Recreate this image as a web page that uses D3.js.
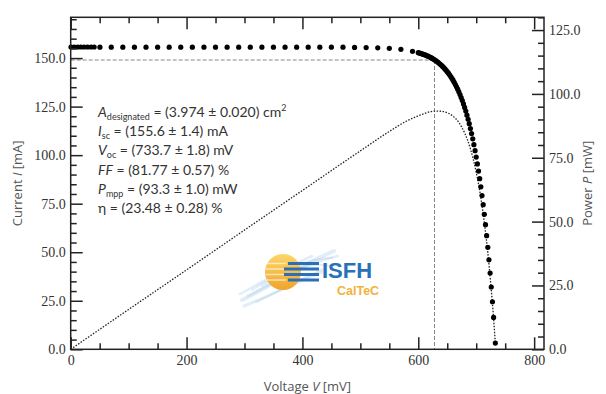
<!DOCTYPE html>
<html>
<head>
<meta charset="utf-8">
<script src="https://cdn.jsdelivr.net/npm/d3@7/dist/d3.min.js"></script>
<style>
  html, body { margin: 0; padding: 0; background: #fff; }
  svg { display: block; }
  .tick-text { font-family: "Liberation Serif", serif; font-size: 14px; fill: #333; }
  .axis-title { font-family: "Open Sans", sans-serif; font-size: 13px; fill: #555; }
  .param { font-family: Lato, sans-serif; font-size: 14px; fill: #333; }
</style>
</head>
<body>
<div id="chart"></div>
<script>
// I-V measurement points (voltage in mV, current in mA)
const voltage = [
  0.5, 6, 12, 17.5, 23, 29, 35, 40.5, 50.5, 70,
  90, 110, 130, 150, 170, 190, 210, 230, 250, 270, 290, 310, 330, 350, 370,
  390, 410, 430, 450, 470, 490, 510, 530, 550, 570, 590,
  600, 602, 604, 606, 608, 610, 612, 614, 616, 618, 620, 622, 624, 626, 628,
  630, 632, 634, 636, 638, 640, 642, 644, 646, 648, 650, 652, 654, 656, 658,
  660, 662, 664, 666, 668, 670, 672, 674, 676, 678, 680, 682, 684, 686, 688,
  690, 692, 694, 696, 698, 700, 702, 704, 706, 708, 710, 712, 714, 716, 718,
  720, 722, 724, 726, 728, 730, 733
];
const current = [
  155.7, 155.7, 155.7, 155.7, 155.7, 155.7, 155.7, 155.7, 155.6, 155.6,
  155.6, 155.6, 155.6, 155.6, 155.6, 155.6, 155.6, 155.6, 155.6, 155.6, 155.6, 155.6, 155.6, 155.6, 155.6,
  155.6, 155.6, 155.6, 155.6, 155.6, 155.5, 155.4, 155.3, 155.0, 154.5, 153.5,
  152.8, 152.6, 152.4, 152.2, 152.0, 151.8, 151.6, 151.3, 151.1, 150.8, 150.5, 150.2, 149.8, 149.5, 149.1,
  148.7, 148.3, 147.8, 147.3, 146.8, 146.3, 145.7, 145.1, 144.4, 143.7, 143.0, 142.2, 141.4, 140.5, 139.6,
  138.6, 137.5, 136.4, 135.2, 134.0, 132.6, 131.2, 129.7, 128.1, 126.4, 124.6, 122.7, 120.6, 118.5, 116.2,
  113.7, 111.1, 108.4, 105.4, 102.3, 99.0, 95.5, 91.8, 87.9, 83.7, 79.2, 74.5, 69.5, 64.2, 58.5,
  52.5, 46.1, 39.3, 32.1, 24.5, 16.4, 3.2
];

// power curve (mW)
const powerVoltage = [0, 100, 200, 300, 400, 500, 550, 580, 600, 610, 620, 630, 640, 650, 660, 670, 680, 690, 700, 710, 720, 725, 730, 733];
const power = [0, 15.6, 31.1, 46.7, 62.2, 77.7, 85.3, 89.4, 91.4, 92.3, 93.0, 93.3, 93.2, 92.6, 91.3, 88.8, 84.7, 78.5, 69.3, 56.3, 37.8, 25.9, 12.0, 2.4];

// maximum power point
const mppVoltage = 628;
const mppCurrent = 149.0;

// ticks
const xTicks = [0, 200, 400, 600, 800];
const currentTicks = [0, 25, 50, 75, 100, 125, 150];
const powerTicks = [0, 25, 50, 75, 100, 125];

// parameter box
const paramSymbols = ['A', 'I', 'V', 'FF', 'P', 'η'];
const paramSubs = ['designated', 'sc', 'oc', '', 'mpp', ''];
const paramValues = [' = (3.974 ± 0.020) cm', ' = (155.6 ± 1.4) mA', ' = (733.7 ± 1.8) mV', ' = (81.77 ± 0.57) %', ' = (93.3 ± 1.0) mW', ' = (23.48 ± 0.28) %'];
const paramSups = ['2', '', '', '', '', ''];

const W = 606, H = 394;
const plotLeft = 70.7, plotRight = 544, plotTop = 17.3, plotBottom = 349.3;

const svg = d3.select('#chart').append('svg')
  .attr('width', W).attr('height', H);

const x = d3.scaleLinear().domain([0, 817]).range([plotLeft, plotRight]);
const yI = d3.scaleLinear().domain([0, 171]).range([plotBottom, plotTop]);
const yP = d3.scaleLinear().domain([0, 130]).range([plotBottom, plotTop]);

// ---- logo (background watermark) ----
const defs = svg.append('defs');
const grad = defs.append('linearGradient').attr('id', 'sun').attr('x1', 0).attr('y1', 0).attr('x2', 0).attr('y2', 1);
grad.append('stop').attr('offset', '0%').attr('stop-color', '#fcd76a');
grad.append('stop').attr('offset', '100%').attr('stop-color', '#f0a42c');
const logo = svg.append('g');

// soft brush streaks behind the sun
const strokes = [
  'M242,300 C268,288 298,266 334,251',
  'M248,296 C272,284 302,264 338,256',
  'M244,306 C270,296 296,282 322,272',
  'M252,290 C280,272 306,258 332,258',
  'M240,294 C262,282 286,268 312,256',
  'M256,302 C282,290 306,276 326,268',
  'M262,286 C284,270 306,262 330,266'
];
logo.selectAll('path.brush').data(strokes).join('path')
  .attr('class', 'brush')
  .attr('d', d => d)
  .attr('fill', 'none')
  .attr('stroke', '#a9cbec')
  .attr('stroke-opacity', 0.35)
  .attr('stroke-width', (d, i) => [4, 2.5, 3, 2, 2.5, 2, 2][i])
  .attr('stroke-linecap', 'round');

logo.append('circle').attr('cx', 283).attr('cy', 272).attr('r', 18).attr('fill', 'url(#sun)');
[263.5, 269, 274.5, 280].forEach((yy, i) => {
  logo.append('line').attr('x1', 266).attr('x2', 286).attr('y1', yy).attr('y2', yy)
    .attr('stroke', '#fff').attr('stroke-opacity', 0.6).attr('stroke-width', 1.5);
  logo.append('line').attr('x1', [288, 284, 284, 288][i]).attr('x2', 319).attr('y1', yy).attr('y2', yy)
    .attr('stroke', '#2b6fb6').attr('stroke-width', 3);
});
logo.append('text').attr('x', 322).attr('y', 278)
  .style('font-family', '"Liberation Sans", Arial, sans-serif').style('font-weight', 'bold')
  .style('font-size', '22px').attr('fill', '#2a70b8').text('ISFH');
logo.append('text').attr('x', 337).attr('y', 295)
  .style('font-family', '"Liberation Sans", Arial, sans-serif').style('font-weight', 'bold')
  .style('font-size', '12.5px').attr('fill', '#f2b23c').text('CalTeC');

// ---- MPP guide lines ----
svg.append('line')
  .attr('x1', x(0)).attr('x2', x(mppVoltage))
  .attr('y1', yI(mppCurrent)).attr('y2', yI(mppCurrent))
  .attr('stroke', '#888').attr('stroke-width', 1).attr('stroke-dasharray', '4,2');
svg.append('line')
  .attr('x1', x(mppVoltage)).attr('x2', x(mppVoltage))
  .attr('y1', yI(mppCurrent)).attr('y2', yI(0))
  .attr('stroke', '#888').attr('stroke-width', 1).attr('stroke-dasharray', '4,2');

// ---- power curve ----
const powerPts = powerVoltage.map((v, i) => [v, power[i]]);
svg.append('path')
  .datum(powerPts)
  .attr('fill', 'none')
  .attr('stroke', '#222')
  .attr('stroke-width', 1.3)
  .attr('stroke-dasharray', '1.5,1.5')
  .attr('d', d3.line().x(d => x(d[0])).y(d => yP(d[1])).curve(d3.curveMonotoneX));

// ---- I-V points ----
svg.selectAll('circle.iv')
  .data(voltage.map((v, i) => [v, current[i]]))
  .join('circle')
  .attr('class', 'iv')
  .attr('cx', d => x(d[0]))
  .attr('cy', d => yI(d[1]))
  .attr('r', 2.6)
  .attr('fill', '#000');

// ---- axes ----
const MAJ = 12, MIN = 6;
function styleAxis(g) {
  g.select('.domain').remove();
  g.selectAll('.tick line').attr('stroke', '#222').attr('stroke-width', 1.5);
  g.selectAll('.tick text').attr('class', 'tick-text').attr('fill', null);
}

const xMinor = d3.range(0, 801, 50).filter(v => !xTicks.includes(v));
const iMinor = d3.range(0, 171, 5).filter(v => !currentTicks.includes(v));
const pMinor = d3.range(0, 131, 5).filter(v => !powerTicks.includes(v));

// bottom
svg.append('g').attr('transform', `translate(0,${plotBottom})`)
  .call(d3.axisBottom(x).tickValues(xTicks).tickSizeInner(-MAJ).tickSizeOuter(0).tickPadding(6).tickFormat(d3.format('d')))
  .call(styleAxis);
svg.append('g').attr('transform', `translate(0,${plotBottom})`)
  .call(d3.axisBottom(x).tickValues(xMinor).tickSizeInner(-MIN).tickSizeOuter(0).tickFormat(''))
  .call(styleAxis);
// top
svg.append('g').attr('transform', `translate(0,${plotTop})`)
  .call(d3.axisTop(x).tickValues(xTicks).tickSizeInner(-MAJ).tickSizeOuter(0).tickFormat(''))
  .call(styleAxis);
svg.append('g').attr('transform', `translate(0,${plotTop})`)
  .call(d3.axisTop(x).tickValues(xMinor).tickSizeInner(-MIN).tickSizeOuter(0).tickFormat(''))
  .call(styleAxis);
// left
svg.append('g').attr('transform', `translate(${plotLeft},0)`)
  .call(d3.axisLeft(yI).tickValues(currentTicks).tickSizeInner(-MAJ).tickSizeOuter(0).tickPadding(5).tickFormat(d3.format('.1f')))
  .call(styleAxis);
svg.append('g').attr('transform', `translate(${plotLeft},0)`)
  .call(d3.axisLeft(yI).tickValues(iMinor).tickSizeInner(-MIN).tickSizeOuter(0).tickFormat(''))
  .call(styleAxis);
// right
svg.append('g').attr('transform', `translate(${plotRight},0)`)
  .call(d3.axisRight(yP).tickValues(powerTicks).tickSizeInner(-MAJ).tickSizeOuter(0).tickPadding(5).tickFormat(d3.format('.1f')))
  .call(styleAxis);
svg.append('g').attr('transform', `translate(${plotRight},0)`)
  .call(d3.axisRight(yP).tickValues(pMinor).tickSizeInner(-MIN).tickSizeOuter(0).tickFormat(''))
  .call(styleAxis);

// frame
svg.append('rect')
  .attr('x', plotLeft).attr('y', plotTop)
  .attr('width', plotRight - plotLeft).attr('height', plotBottom - plotTop)
  .attr('fill', 'none').attr('stroke', '#222').attr('stroke-width', 1.5);

// ---- axis titles ----
const yt = svg.append('text').attr('class', 'axis-title')
  .attr('transform', `translate(22,${(plotTop + plotBottom) / 2}) rotate(-90)`)
  .attr('text-anchor', 'middle');
yt.append('tspan').text('Current ');
yt.append('tspan').style('font-style', 'italic').text('I');
yt.append('tspan').text(' [mA]');

const pt = svg.append('text').attr('class', 'axis-title')
  .attr('transform', `translate(592,${(plotTop + plotBottom) / 2}) rotate(-90)`)
  .attr('text-anchor', 'middle');
pt.append('tspan').text('Power ');
pt.append('tspan').style('font-style', 'italic').text('P');
pt.append('tspan').text(' [mW]');

const xt = svg.append('text').attr('class', 'axis-title')
  .attr('x', (plotLeft + plotRight) / 2).attr('y', 391)
  .attr('text-anchor', 'middle');
xt.append('tspan').text('Voltage ');
xt.append('tspan').style('font-style', 'italic').text('V');
xt.append('tspan').text(' [mV]');

// ---- parameter text ----
paramSymbols.forEach((sym, i) => {
  const t = svg.append('text').attr('class', 'param')
    .attr('x', 98).attr('y', 117 + i * 19.2);
  t.append('tspan').style('font-style', sym === 'η' ? 'normal' : 'italic').text(sym);
  if (paramSubs[i]) {
    t.append('tspan').attr('dy', 3).style('font-size', '9px').text(paramSubs[i]);
    t.append('tspan').attr('dy', -3).text(paramValues[i]);
  } else {
    t.append('tspan').text(paramValues[i]);
  }
  if (paramSups[i]) {
    t.append('tspan').attr('dy', -6).style('font-size', '9px').text(paramSups[i]);
  }
});
</script>
</body>
</html>
